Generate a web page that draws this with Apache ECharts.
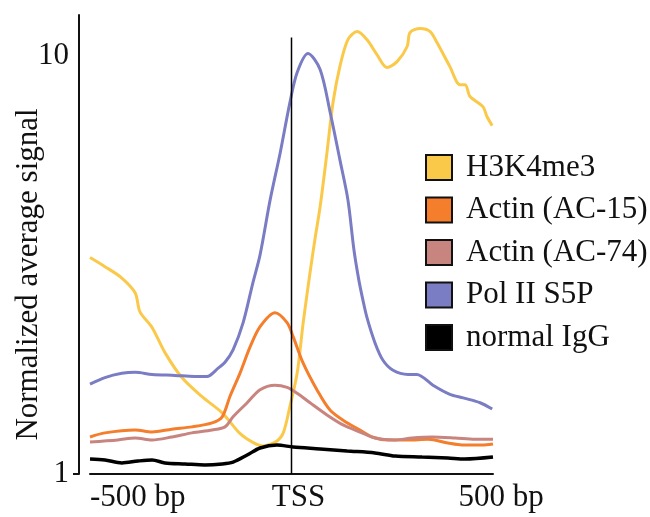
<!DOCTYPE html>
<html>
<head>
<meta charset="utf-8">
<script src="https://cdn.jsdelivr.net/npm/echarts@6/dist/echarts.min.js"></script>
<style>html,body{margin:0;padding:0;background:#fff;}#c{width:650px;height:517px;}</style>
</head>
<body>
<div id="c"></div>
<script>
// ---- data (bp position relative to TSS, normalized average signal) ----
const seriesNames = ['H3K4me3', 'Actin (AC-15)', 'Actin (AC-74)', 'Pol II S5P', 'normal IgG'];
const xTickValues = [-500, 0, 500];
const xTickLabels = ['-500 bp', 'TSS', '500 bp'];
const yTickValues = [1, 10];

const h3k4me3Bp  = [-500,-463,-421,-388,-376,-346,-314,-272,-222,-172,-128,-96,-71,-41,-21,-4,14,29,46,58,71,88,103,120,140,163,187,212,237,262,287,294,319,344,361,393,418,431,443,475,485,498];
const h3k4me3Val = [3.29,3.13,2.94,2.71,2.44,2.24,1.95,1.70,1.53,1.40,1.25,1.19,1.167,1.19,1.25,1.45,1.74,2.30,3.03,3.63,4.35,5.86,7.72,9.41,10.92,11.41,10.92,10.05,9.36,9.67,10.51,11.35,11.60,11.41,10.74,9.41,8.52,8.52,7.98,7.55,7.15,6.80];

const ac15Bp  = [-500,-463,-388,-346,-297,-247,-197,-172,-153,-128,-103,-78,-41,-11,4,29,63,96,138,170,200,239,289,339,388,423,473,500];
const ac15Val = [1.226,1.254,1.274,1.26,1.28,1.296,1.325,1.37,1.53,1.74,2.01,2.25,2.43,2.30,2.13,1.84,1.59,1.42,1.325,1.274,1.226,1.206,1.206,1.21,1.186,1.173,1.173,1.18];

const ac74Bp  = [-500,-431,-388,-346,-297,-247,-197,-165,-145,-110,-78,-41,-11,14,46,88,128,170,207,257,299,349,406,455,500];
const ac74Val = [1.193,1.206,1.219,1.206,1.226,1.254,1.274,1.296,1.37,1.48,1.59,1.63,1.61,1.56,1.48,1.384,1.31,1.26,1.219,1.206,1.219,1.226,1.219,1.21,1.21];

const pol2Bp  = [-500,-463,-421,-388,-346,-289,-240,-210,-182,-165,-145,-120,-96,-78,-53,-28,-4,14,41,71,96,120,140,155,167,177,187,207,227,252,289,311,351,393,426,468,498];
const pol2Val = [1.64,1.70,1.74,1.75,1.73,1.72,1.71,1.71,1.79,1.85,1.98,2.30,2.86,3.34,4.52,5.86,7.72,9.11,10.11,9.26,7.31,5.64,4.52,3.43,2.91,2.61,2.37,2.06,1.87,1.77,1.73,1.73,1.63,1.55,1.52,1.48,1.43];

const iggBp  = [-500,-463,-421,-381,-346,-314,-264,-215,-172,-145,-110,-78,-36,4,71,138,207,257,324,388,430,500];
const iggVal = [1.086,1.080,1.063,1.074,1.080,1.063,1.057,1.051,1.057,1.068,1.110,1.154,1.173,1.16,1.148,1.135,1.123,1.104,1.098,1.092,1.086,1.098];

// TSS marker line: x position and vertical extent (signal units)
const tssX = [0, 0];
const tssY = [1, 11.04];

const colors = ['#FBC94A', '#F47E2C', '#C8847F', '#7A7CC4', '#000000'];
const widths = [3, 3, 3, 3, 3.5];

function pairs(xs, ys) { return xs.map((x, i) => [x, ys[i]]); }
const allData = [
  pairs(h3k4me3Bp, h3k4me3Val),
  pairs(ac15Bp, ac15Val),
  pairs(ac74Bp, ac74Val),
  pairs(pol2Bp, pol2Val),
  pairs(iggBp, iggVal)
];

const FONT = 'Liberation Serif';
const chart = echarts.init(document.getElementById('c'), null, {renderer: 'canvas'});

const series = seriesNames.map((name, i) => ({
  name: name,
  type: 'line',
  data: allData[i],
  showSymbol: false,
  symbol: 'none',
  smooth: 0.3,
  color: colors[i],
  lineStyle: {color: colors[i], width: widths[i]},
  itemStyle: {color: colors[i]},
  z: 3 + i,
  animation: false
}));
series.push({
  name: 'TSS',
  type: 'line',
  data: pairs(tssX, tssY),
  showSymbol: false,
  symbol: 'none',
  silent: true,
  color: '#000',
  lineStyle: {color: '#000', width: 1.5},
  z: 10,
  animation: false
});

chart.setOption({
  animation: false,
  backgroundColor: '#fff',
  grid: {left: 90, right: 157, top: 15, bottom: 43, containLabel: false, outerBoundsMode: 'none'},
  legend: {
    orient: 'vertical',
    left: 420,
    top: 147,
    data: seriesNames,
    icon: 'rect',
    itemWidth: 26,
    itemHeight: 25,
    itemGap: 11.5,
    itemStyle: {borderColor: '#111', borderWidth: 2},
    textStyle: {fontFamily: FONT, fontSize: 31, color: '#111', lineHeight: 25, padding: [0, 0, 0, 9]},
    selectedMode: false
  },
  xAxis: {
    type: 'value',
    min: -500,
    max: 500,
    interval: 500,
    axisLine: {show: true, onZero: false, lineStyle: {color: '#111', width: 2}},
    axisTick: {show: false},
    splitLine: {show: false},
    axisLabel: {
      color: '#111',
      fontFamily: FONT,
      fontSize: 31,
      margin: 8,
      alignMinLabel: 'left',
      formatter: function (v) {
        const idx = xTickValues.indexOf(v);
        const txt = idx >= 0 ? xTickLabels[idx] : '';
        if (v === 0) return '{c|' + txt + '}';
        if (v === 500) return '{r|' + txt + '}';
        return txt;
      },
      rich: {
        c: {fontFamily: FONT, fontSize: 31, color: '#111', padding: [0, 0, 0, 14]},
        r: {fontFamily: FONT, fontSize: 31, color: '#111', padding: [0, 0, 0, 16]}
      }
    }
  },
  yAxis: {
    type: 'log',
    logBase: 10,
    min: 1,
    max: 12.5,
    offset: 11,
    name: 'Normalized average signal',
    nameLocation: 'middle',
    nameGap: 35,
    nameMoveOverlap: false,
    nameTextStyle: {fontFamily: FONT, fontSize: 31, color: '#111', padding: [0, 60, 0, 0]},
    axisLine: {show: true, onZero: false, lineStyle: {color: '#111', width: 2}},
    axisTick: {show: true, customValues: [1], length: 6, lineStyle: {color: '#111', width: 2}},
    splitLine: {show: false},
    axisLabel: {
      customValues: yTickValues,
      color: '#111',
      fontFamily: FONT,
      fontSize: 31,
      margin: 10,
      formatter: function (v) { return String(Math.round(v)); }
    }
  },
  series: series
});
</script>
</body>
</html>
